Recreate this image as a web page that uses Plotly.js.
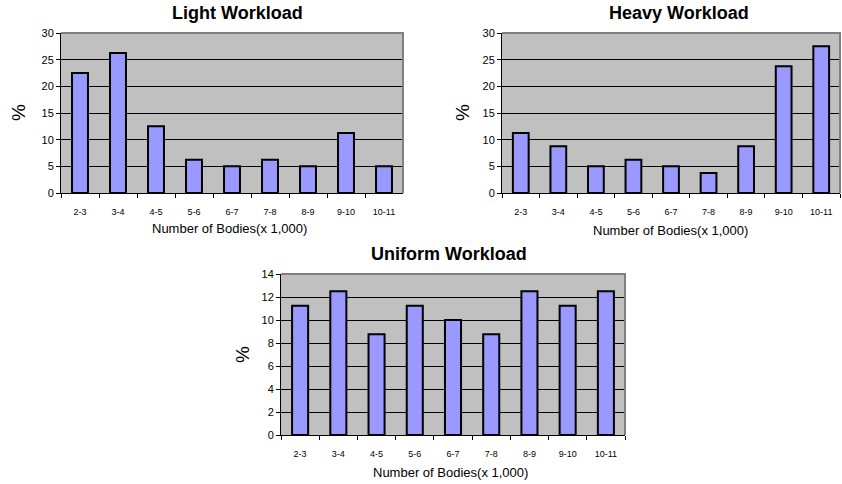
<!DOCTYPE html>
<html>
<head>
<meta charset="utf-8">
<script src="https://cdn.plot.ly/plotly-3.0.1.min.js"></script>
<style>
  html, body { margin: 0; padding: 0; background: #fff; }
  #chart { width: 842px; height: 484px; }
</style>
</head>
<body>
<div id="chart"></div>
<script>
// Body-count ranges (thousands) shared by all three workloads
const ranges = ["2-3", "3-4", "4-5", "5-6", "6-7", "7-8", "8-9", "9-10", "10-11"];

// Share of runs (%) falling in each range
const lightPct   = [22.5, 26.25, 12.5, 6.25, 5, 6.25, 5, 11.25, 5];
const heavyPct   = [11.25, 8.75, 5, 6.25, 5, 3.75, 8.75, 23.75, 27.5];
const uniformPct = [11.25, 12.5, 8.75, 11.25, 10, 8.75, 12.5, 11.25, 12.5];

const panelTitles = ["Light Workload", "Heavy Workload", "Uniform Workload"];
const xTitle = "Number of Bodies(x 1,000)";
const yTitle = "%";

const FONT = "Liberation Sans, Arial, sans-serif";
const W = 842, H = 484;
const px = v => v / W;
const py = v => 1 - v / H;

function barTrace(values, n) {
  return {
    type: "bar",
    x: ranges,
    y: values,
    xaxis: "x" + (n === 1 ? "" : n),
    yaxis: "y" + (n === 1 ? "" : n),
    marker: { color: "#9999FF", line: { color: "#000000", width: 2 } },
    hoverinfo: "x+y",
    showlegend: false
  };
}

function xAxis(domain, anchor) {
  return {
    domain: domain, anchor: anchor, type: "category",
    showline: true, linecolor: "#000", linewidth: 1,
    ticks: "outside", tickson: "boundaries", ticklen: 4, tickcolor: "#000",
    ticklabelstandoff: 10,
    tickfont: { family: FONT, size: 9, color: "#000" },
    showgrid: false, zeroline: false, fixedrange: true
  };
}

function yAxis(domain, anchor, max, step) {
  return {
    domain: domain, anchor: anchor, range: [0, max], dtick: step,
    showline: true, linecolor: "#000", linewidth: 1,
    ticks: "outside", ticklen: 4, tickcolor: "#000",
    tickfont: { family: FONT, size: 11, color: "#000" },
    showgrid: true, gridcolor: "#000", gridwidth: 1,
    zeroline: false, fixedrange: true
  };
}

// Panel geometry in pixels: [left, right, top, bottom]
const boxes = [
  [61, 403, 33, 193],
  [502, 840, 33, 193],
  [281, 625, 274, 435]
];
const dom = boxes.map(b => ({ x: [px(b[0]), px(b[1])], y: [py(b[3]), py(b[2])] }));

const layout = {
  width: W, height: H,
  margin: { l: 0, r: 0, t: 0, b: 0 },
  paper_bgcolor: "#fff",
  plot_bgcolor: "#C0C0C0",
  bargap: 0.58,
  xaxis:  xAxis(dom[0].x, "y"),
  yaxis:  yAxis(dom[0].y, "x", 30, 5),
  xaxis2: xAxis(dom[1].x, "y2"),
  yaxis2: yAxis(dom[1].y, "x2", 30, 5),
  xaxis3: xAxis(dom[2].x, "y3"),
  yaxis3: yAxis(dom[2].y, "x3", 14, 2),
  shapes: [],
  annotations: []
};

// Grey frame on top and right edges of each plot area
["", "2", "3"].forEach(s => {
  layout.shapes.push({
    type: "path", xref: "x" + s + " domain", yref: "y" + s + " domain",
    path: "M0,1 L1,1 L1,0", line: { color: "#808080", width: 2 }, layer: "above"
  });
});

// Titles and axis labels placed per panel
const titlePos = [[237, 13], [679, 13], [449, 254]];
const xTitlePos = [[229, 229], [670, 230], [450, 472]];
const yTitlePos = [[18, 113], [462, 113], [242, 355]];

for (let i = 0; i < 3; i++) {
  layout.annotations.push({
    text: "<b>" + panelTitles[i] + "</b>", xref: "paper", yref: "paper",
    x: px(titlePos[i][0]), y: py(titlePos[i][1]), xanchor: "center", yanchor: "middle",
    showarrow: false, font: { family: FONT, size: 18, color: "#000" }
  });
  layout.annotations.push({
    text: xTitle, xref: "paper", yref: "paper",
    x: px(xTitlePos[i][0]), y: py(xTitlePos[i][1]), xanchor: "center", yanchor: "middle",
    showarrow: false, font: { family: FONT, size: 13, color: "#000" }
  });
  layout.annotations.push({
    text: yTitle, xref: "paper", yref: "paper", textangle: -90,
    x: px(yTitlePos[i][0]), y: py(yTitlePos[i][1]), xanchor: "center", yanchor: "middle",
    showarrow: false, font: { family: FONT, size: 19, color: "#000" }
  });
}

const data = [barTrace(lightPct, 1), barTrace(heavyPct, 2), barTrace(uniformPct, 3)];

Plotly.newPlot("chart", data, layout, { displayModeBar: false, staticPlot: true });
</script>
</body>
</html>
